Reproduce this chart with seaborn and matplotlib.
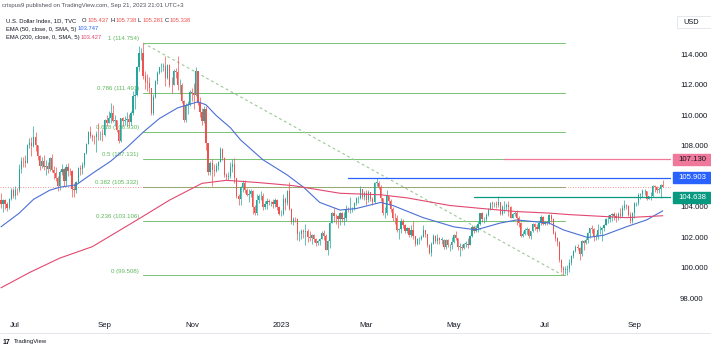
import numpy as np
import pandas as pd
import matplotlib
matplotlib.use("Agg")
import matplotlib.pyplot as plt
import matplotlib.transforms as mtransforms
from matplotlib.patches import Rectangle
import seaborn as sns

# ---------------- data: U.S. Dollar Index (TVC:DXY), daily ----------------
start_date = "2022-06-22"
end_date = "2023-09-21"
first_open = 104.44  # previous session close; every later open = prior close

closes = [
    104.20, 104.43, 104.21,                  # Jun 22-24 2022
    103.95, 104.50, 105.10, 104.69, 105.14,  # Jun 27
    105.11, 106.52, 107.03, 107.01, 106.89,  # Jul 4
    108.07, 108.19, 108.01, 108.62, 108.07,  # Jul 11
    107.35, 106.70, 107.01, 106.59, 106.72,  # Jul 18
    106.46, 107.20, 106.44, 106.25, 105.90,  # Jul 25
    105.40, 106.29, 106.50, 105.72, 106.62,  # Aug 1
    106.38, 106.35, 105.19, 105.09, 105.62,  # Aug 8
    106.55, 106.47, 106.78, 107.51, 108.15,  # Aug 15
    108.95, 108.63, 108.60, 108.56, 108.80,  # Aug 22
    108.78, 108.78, 108.70, 109.68, 109.54,  # Aug 29
    109.82, 110.18, 109.62, 109.71, 109.02,  # Sep 5
    108.32, 109.83, 109.64, 109.72, 109.76,  # Sep 12
    109.59, 110.19, 111.26, 111.36, 113.19,  # Sep 19
    114.10, 114.11, 112.62, 112.19, 112.12,  # Sep 26
    111.79, 110.15, 111.22, 112.25, 112.80,  # Oct 3
    113.16, 113.20, 113.25, 112.44, 113.30,  # Oct 10
    112.03, 112.00, 112.94, 112.86, 111.99,  # Oct 17
    112.00, 110.93, 109.72, 110.60, 110.71,  # Oct 24
    111.53, 111.45, 111.35, 112.90, 110.80,  # Oct 31
    110.20, 109.62, 110.45, 108.18, 106.30,  # Nov 7
    106.88, 106.40, 106.33, 106.68, 106.95,  # Nov 14
    107.80, 107.20, 106.10, 105.95, 106.02,  # Nov 21
    106.65, 106.80, 105.90, 104.72, 104.50,  # Nov 28
    105.30, 105.58, 105.10, 104.79, 104.82,  # Dec 5
    105.05, 104.00, 103.60, 104.45, 104.70,  # Dec 12
    104.70, 104.00, 104.20, 104.42, 104.30,  # Dec 19
    104.30, 104.22, 104.49, 104.00, 103.52,  # Dec 26
    103.55, 104.52, 104.25, 105.05, 103.88,  # Jan 2 2023
    103.00, 103.22, 103.20, 102.20, 102.20,  # Jan 9
    102.40, 102.38, 102.42, 102.05, 101.95,  # Jan 16
    102.15, 101.90, 101.62, 101.80, 101.90,  # Jan 23
    102.30, 102.10, 101.20, 101.75, 102.95,  # Jan 30
    103.62, 103.42, 103.40, 103.20, 103.60,  # Feb 6
    103.20, 103.30, 103.90, 103.85, 103.85,  # Feb 13
    103.90, 104.25, 104.60, 104.60, 105.20,  # Feb 20
    104.65, 104.90, 104.45, 105.00, 104.50,  # Feb 27
    104.30, 105.60, 105.60, 105.30, 104.58,  # Mar 6
    103.60, 103.60, 104.70, 104.40, 103.85,  # Mar 13
    103.30, 103.25, 102.50, 102.55, 103.10,  # Mar 20
    102.85, 102.40, 102.65, 102.15, 102.50,  # Mar 27
    102.10, 101.60, 101.90, 101.90, 102.05,  # Apr 3
    102.50, 102.20, 101.50, 101.00, 101.60,  # Apr 10
    102.10, 101.75, 101.95, 101.85, 101.85,  # Apr 17
    101.35, 101.85, 101.50, 101.50, 101.70,  # Apr 24
    102.15, 101.95, 101.40, 101.40, 101.30,  # May 1
    101.60, 101.60, 101.50, 102.10, 102.70,  # May 8
    102.40, 102.60, 102.90, 103.60, 103.20,  # May 15
    103.20, 103.50, 103.90, 104.25, 104.20,  # May 22
    104.20, 104.10, 104.30, 103.55, 104.00,  # May 29
    104.00, 104.10, 104.00, 103.30, 103.55,  # Jun 5
    103.60, 103.30, 102.95, 102.10, 102.25,  # Jun 12
    102.50, 102.55, 102.10, 102.40, 102.90,  # Jun 19
    102.70, 102.55, 102.95, 103.35, 102.90,  # Jun 26
    103.00, 102.95, 103.45, 103.20, 102.30,  # Jul 3
    101.95, 101.70, 100.55, 100.00, 99.90,   # Jul 10
    99.90, 99.95, 100.30, 100.80, 101.10,    # Jul 17
    101.40, 101.30, 100.90, 101.80, 101.65,  # Jul 24
    101.85, 102.30, 102.60, 102.55, 102.00,  # Jul 31
    102.10, 102.50, 102.50, 102.60, 102.85,  # Aug 7
    103.20, 103.20, 103.45, 103.55, 103.40,  # Aug 14
    103.30, 103.55, 103.40, 103.95, 104.15,  # Aug 21
    104.05, 103.50, 103.10, 103.60, 104.25,  # Aug 28
    104.25, 104.80, 104.85, 105.05, 105.05,  # Sep 4
    104.55, 104.70, 104.72, 105.40, 105.30,  # Sep 11
    105.10, 105.20, 105.437, 105.338,        # Sep 18-21
]

highs = [
    104.95, 104.55, 104.50,
    104.35, 104.60, 105.25, 105.25, 105.40,
    105.25, 106.80, 107.25, 107.25, 107.40,
    108.15, 108.55, 108.60, 109.29, 108.90,
    108.05, 107.40, 107.25, 107.40, 107.05,
    106.95, 107.25, 107.45, 106.70, 106.60,
    106.00, 106.40, 106.80, 106.55, 106.85,
    106.90, 106.55, 106.45, 105.55, 105.70,
    106.60, 106.75, 106.95, 107.55, 108.20,
    109.00, 109.30, 108.80, 108.75, 109.00,
    109.50, 109.00, 109.10, 109.80, 110.00,
    110.27, 110.79, 110.70, 110.00, 109.70,
    109.10, 109.85, 109.90, 109.95, 110.20,
    110.10, 110.30, 111.60, 111.73, 113.25,
    114.58, 114.40, 114.754, 112.90, 112.70,
    112.55, 111.80, 111.40, 112.30, 112.90,
    113.20, 113.45, 113.45, 113.90, 113.35,
    113.35, 112.50, 113.05, 113.10, 113.88,
    112.40, 112.10, 111.00, 110.80, 110.95,
    111.70, 111.80, 112.10, 113.15, 112.95,
    111.20, 110.50, 110.60, 110.65, 108.20,
    107.00, 107.15, 106.85, 106.90, 107.00,
    107.95, 107.90, 107.25, 106.25, 106.30,
    106.95, 107.15, 107.20, 105.90, 104.85,
    105.40, 105.80, 105.80, 105.25, 105.15,
    105.15, 105.10, 104.15, 104.85, 104.85,
    105.05, 104.90, 104.40, 104.60, 104.55,
    104.40, 104.50, 104.60, 104.55, 104.05,
    103.80, 104.85, 104.65, 105.10, 105.63,
    103.95, 103.35, 103.35, 103.25, 102.45,
    102.55, 102.55, 102.90, 102.55, 102.40,
    102.20, 102.20, 101.95, 101.85, 101.95,
    102.40, 102.50, 102.20, 101.85, 103.00,
    103.70, 103.95, 103.55, 103.45, 103.70,
    103.70, 103.65, 104.10, 104.00, 104.65,
    104.00, 104.30, 104.65, 104.75, 105.35,
    105.15, 105.05, 105.10, 105.10, 105.00,
    104.65, 105.65, 105.88, 105.70, 105.45,
    104.50, 104.00, 105.10, 104.75, 104.50,
    104.00, 103.60, 103.45, 102.60, 103.30,
    103.20, 102.90, 102.70, 102.70, 102.80,
    103.05, 102.10, 101.95, 102.05, 102.15,
    102.80, 102.50, 102.25, 101.55, 101.70,
    102.20, 102.15, 102.20, 102.00, 102.00,
    101.90, 101.90, 101.90, 101.60, 102.00,
    102.25, 102.45, 101.95, 101.65, 101.60,
    101.65, 101.75, 101.95, 102.15, 102.80,
    102.70, 102.80, 103.10, 103.60, 103.65,
    103.35, 103.60, 103.95, 104.30, 104.40,
    104.35, 104.40, 104.70, 104.30, 104.10,
    104.40, 104.25, 104.40, 104.05, 103.60,
    103.75, 103.80, 103.40, 103.00, 102.40,
    102.60, 102.70, 102.60, 102.45, 102.95,
    102.95, 102.90, 103.10, 103.50, 103.40,
    103.10, 103.10, 103.55, 103.55, 103.25,
    102.40, 102.00, 101.75, 100.60, 100.10,
    100.15, 100.20, 100.60, 100.85, 101.20,
    101.50, 101.60, 101.40, 101.85, 101.85,
    101.95, 102.35, 102.65, 102.80, 102.60,
    102.20, 102.90, 102.75, 102.70, 102.90,
    103.25, 103.45, 103.50, 103.60, 103.65,
    103.60, 103.70, 103.95, 104.10, 104.45,
    104.20, 104.10, 103.70, 103.70, 104.30,
    104.35, 104.90, 104.90, 105.15, 105.15,
    104.95, 104.75, 105.00, 105.45, 105.45,
    105.40, 105.30, 105.50, 105.738,
]

lows = [
    103.94, 103.70, 103.85,
    103.75, 103.90, 104.45, 104.60, 104.50,
    104.80, 105.00, 106.20, 106.60, 106.60,
    107.00, 107.85, 107.35, 107.95, 107.70,
    107.10, 106.45, 106.55, 106.40, 106.10,
    106.25, 106.35, 106.30, 105.85, 105.70,
    105.05, 105.10, 106.10, 105.40, 105.40,
    106.05, 106.10, 104.65, 104.65, 104.90,
    105.55, 106.10, 106.15, 106.65, 107.45,
    108.10, 108.50, 108.30, 108.10, 107.60,
    108.40, 108.40, 108.30, 108.65, 109.30,
    109.50, 109.50, 109.55, 109.30, 108.95,
    108.20, 108.25, 109.30, 109.40, 109.30,
    109.30, 109.40, 110.00, 110.45, 111.30,
    112.90, 113.65, 112.40, 111.75, 111.60,
    111.50, 110.05, 110.00, 111.15, 112.05,
    112.70, 112.85, 112.90, 111.95, 112.40,
    111.90, 111.45, 112.00, 112.45, 111.70,
    111.40, 110.80, 109.55, 109.55, 110.10,
    110.65, 110.95, 110.40, 111.30, 110.70,
    109.90, 109.40, 109.50, 107.75, 106.10,
    106.10, 105.35, 106.05, 106.30, 106.45,
    106.95, 107.10, 105.95, 105.75, 105.80,
    105.90, 106.30, 105.60, 104.60, 104.10,
    104.12, 105.00, 104.95, 104.75, 104.35,
    104.65, 103.55, 103.45, 103.50, 104.25,
    104.45, 103.80, 103.90, 103.85, 104.10,
    104.05, 103.95, 104.00, 103.80, 103.45,
    103.40, 103.50, 103.80, 104.15, 103.80,
    102.90, 102.80, 103.00, 101.85, 101.80,
    101.90, 101.95, 101.50, 101.70, 101.75,
    101.60, 101.70, 101.45, 101.50, 101.50,
    101.90, 101.85, 101.15, 100.82, 101.30,
    102.95, 103.00, 102.90, 102.60, 102.80,
    103.00, 102.80, 103.10, 103.70, 103.60,
    103.65, 103.80, 104.10, 104.25, 104.55,
    104.50, 104.45, 104.10, 104.35, 104.40,
    104.10, 104.25, 105.40, 105.15, 104.40,
    103.45, 103.30, 103.50, 104.20, 103.70,
    103.05, 102.90, 102.35, 101.90, 102.30,
    102.65, 102.30, 102.30, 102.00, 102.00,
    101.90, 101.45, 101.50, 101.60, 101.85,
    102.05, 102.00, 101.35, 100.90, 100.80,
    101.55, 101.65, 101.60, 101.60, 101.60,
    101.25, 101.25, 101.40, 101.10, 101.25,
    101.65, 101.85, 101.15, 100.80, 101.20,
    101.25, 101.35, 101.30, 101.50, 102.05,
    102.30, 102.35, 102.35, 102.80, 103.00,
    102.95, 103.10, 103.40, 103.80, 103.90,
    104.00, 103.95, 104.00, 103.50, 103.45,
    103.60, 103.80, 103.40, 103.30, 103.25,
    103.40, 102.85, 102.70, 102.00, 102.00,
    102.15, 102.25, 101.95, 101.90, 102.35,
    102.50, 102.35, 102.45, 102.85, 102.80,
    102.80, 102.85, 102.90, 103.00, 102.25,
    101.75, 101.45, 100.40, 99.75, 99.508,
    99.60, 99.55, 99.75, 100.20, 100.65,
    101.05, 101.20, 100.55, 100.80, 101.20,
    101.55, 101.65, 101.95, 102.30, 101.75,
    101.85, 101.90, 102.20, 101.80, 102.40,
    102.80, 102.95, 103.00, 103.10, 103.15,
    103.00, 103.15, 103.25, 103.35, 103.80,
    103.85, 103.40, 102.95, 102.95, 103.30,
    104.05, 104.10, 104.50, 104.65, 104.80,
    104.45, 104.50, 104.45, 104.65, 105.00,
    104.95, 104.95, 104.60, 105.281,
]

# moving averages (bar index, value)
ema50_bar = [0, 9, 16, 24, 29, 37, 45, 54, 62, 70, 78, 87, 97, 101, 106, 113,
             118, 129, 141, 149, 157, 167, 175, 187, 193, 208, 223, 234, 246,
             254, 270, 277, 289, 297, 308, 318, 326]
ema50_val = [102.7, 103.6, 104.5, 105.1, 105.3, 105.45, 106.2, 107.0, 107.9,
             108.9, 109.8, 110.5, 110.9, 110.7, 110.0, 109.2, 108.4, 107.1,
             106.1, 105.3, 104.3, 103.8, 103.9, 104.3, 104.1, 103.3, 102.7,
             102.5, 102.95, 103.15, 102.95, 102.5, 102.0, 102.15, 102.7,
             103.15, 103.747]
ema200_bar = [0, 14, 29, 45, 67, 83, 99, 111, 127, 144, 167, 187, 200, 221,
              237, 254, 270, 280, 308, 326]
ema200_val = [98.7, 99.7, 100.65, 101.4, 103.15, 104.45, 105.55, 105.75, 105.6,
              105.4, 104.9, 104.8, 104.6, 104.1, 103.9, 103.7, 103.6, 103.5,
              103.3, 103.427]

# Fibonacci retracement, Sep 28 2022 high -> Jul 14 2023 low
fib_ratios = ["0", "0.236", "0.382", "0.5", "0.618", "0.786", "1"]
fib_prices = [99.508, 103.106, 105.332, 107.131, 108.930, 111.491, 114.754]
fib_from_bar = 70
fib_to_bar = 278

# horizontal levels drawn to the price scale
level_prices = [107.130, 105.903, 104.638]
level_from_bar = [248, 171, 233]
level_colors = ["#f0789a", "#2962ff", "#089981"]
level_text_colors = ["#131722", "#ffffff", "#ffffff"]

last_price = 105.338

month_starts = ["2022-07-01", "2022-09-01", "2022-11-01", "2023-01-01",
                "2023-03-01", "2023-05-01", "2023-07-01", "2023-09-01"]
month_labels = ["Jul", "Sep", "Nov", "2023", "Mar", "May", "Jul", "Sep"]
price_ticks = [98, 100, 102, 104, 108, 110, 112, 114]

# ---------------- frame ----------------
dates = pd.bdate_range(start_date, end_date)
n = len(closes)
assert n == len(dates) == len(highs) == len(lows)

c = np.array(closes)
o = np.concatenate([[first_open], c[:-1]])
h = np.maximum(np.array(highs), np.maximum(o, c))
l = np.minimum(np.array(lows), np.minimum(o, c))
bars = pd.DataFrame({"bar": np.arange(n), "date": dates, "open": o,
                     "high": h, "low": l, "close": c})
bars["up"] = bars["close"] >= bars["open"]

sns.set_theme(style="white")
plt.rcParams["font.family"] = ["Liberation Sans", "DejaVu Sans"]

W, H = 711, 350
fig = plt.figure(figsize=(W / 100, H / 100), dpi=100)
fig.patch.set_facecolor("white")

top_px, bottom_px, right_px = 12, 316, 671
ax = fig.add_axes([0, 1 - bottom_px / H, right_px / W, (bottom_px - top_px) / H])
ax.set_xlim(-0.49, 330.05)
ax.set_ylim(96.852, 116.787)
for s in ax.spines.values():
    s.set_visible(False)
ax.grid(False)

UP, DOWN = "#26a69a", "#ef5350"
GREEN_LINE, GREEN_TEXT = "#7cc479", "#5cb85c"

# Fibonacci levels and labels
for r, p in zip(fib_ratios, fib_prices):
    ax.plot([fib_from_bar, fib_to_bar], [p, p], color=GREEN_LINE, lw=0.75, zorder=1)
    ax.annotate(f"{r} ({p:.3f})", xy=(fib_from_bar, p), xytext=(-3, 3.1),
                textcoords="offset points", ha="right", va="center",
                fontsize=4.4, color=GREEN_TEXT, zorder=1)
ax.plot([fib_from_bar, 277], [fib_prices[-1], fib_prices[0]], color="#9cc796",
        lw=0.8, dashes=(2.5, 2.5), zorder=1)

# last price line
ax.axhline(last_price, color=DOWN, lw=0.6, ls=(0, (1, 2)), alpha=0.8, zorder=1.5)

# candles
colors = np.where(bars["up"], UP, DOWN)
ax.vlines(bars["bar"], bars["low"], bars["high"], colors=colors, lw=0.5, zorder=2)
body_lo = np.minimum(bars["open"], bars["close"])
body_h = np.maximum(np.abs(bars["close"] - bars["open"]), 0.02)
ax.bar(bars["bar"], body_h, bottom=body_lo, width=0.6, color=colors,
       linewidth=0, zorder=2.5)

# moving averages
sns.lineplot(x=ema50_bar, y=ema50_val, ax=ax, color="#4b6fd6", lw=0.8, zorder=3)
sns.lineplot(x=ema200_bar, y=ema200_val, ax=ax, color="#e2486f", lw=0.8, zorder=3)

# horizontal levels
for p, b, col in zip(level_prices, level_from_bar, level_colors):
    ax.plot([b, 330.05], [p, p], color=col, lw=0.9, zorder=3.5)

# axes ticks
ax.yaxis.tick_right()
ax.set_yticks(price_ticks)
ax.set_yticklabels([f"{v:.3f}" for v in price_ticks])
ax.tick_params(axis="y", length=0, pad=6.5, labelsize=5.6, labelcolor="#131722")
tick_bars = [int(np.searchsorted(dates, pd.Timestamp(d))) for d in month_starts]
ax.set_xticks(tick_bars)
ax.set_xticklabels(month_labels)
ax.tick_params(axis="x", length=0, pad=4.5, labelsize=5.6, labelcolor="#131722")
ax.set_xlabel("")
ax.set_ylabel("")

# price-scale tags
blend = mtransforms.blended_transform_factory(fig.transFigure, ax.transData)
tag_h = 11 / 15.25
for p, col, tcol in zip(level_prices, level_colors, level_text_colors):
    fig.patches.append(Rectangle((673 / W, p - tag_h / 2), 38 / W, tag_h,
                                 transform=blend, color=col, zorder=5))
    fig.text(692 / W, p, f"{p:.3f}", transform=blend, ha="center", va="center",
             fontsize=5.6, color=tcol, zorder=6)


def fx(x):
    return x / W


def fy(y):
    return 1 - y / H


renderer = fig.canvas.get_renderer()


def text_row(y, parts, size):
    """Place coloured pieces of one header line left to right without overlap."""
    end = 0
    for x, s, col in parts:
        x = max(x, end + 1)
        t = fig.text(fx(x), fy(y), s, fontsize=size, color=col, va="center")
        end = t.get_window_extent(renderer).x1


# USD label box
fig.patches.append(Rectangle((fx(677), fy(28)), 34 / W, 12 / H, transform=fig.transFigure,
                             facecolor="white", edgecolor="#e0e3eb", lw=0.6))
fig.text(fx(683), fy(22), "USD", fontsize=5.3, color="#131722", va="center")

# header
DARK = "#131722"
fig.text(fx(2), fy(6), "crispus9 published on TradingView.com, Sep 21, 2023 21:01 UTC+3",
         fontsize=4.3, color="#50535e", va="center")
text_row(20.5, [(6, "U.S. Dollar Index, 1D, TVC", DARK), (82, "O", DARK),
                (85.5, "105.437", DOWN), (110.5, "H", DARK), (114, "105.738", DOWN),
                (138, "L", DARK), (141, "105.281", DOWN), (164, "C", DARK),
                (167.5, "105.338", DOWN)], 4.2)
text_row(29, [(6, "EMA (50, close, 0, SMA, 5)", DARK), (77, "103.747", "#2962ff")], 4.2)
text_row(37.5, [(6, "EMA (200, close, 0, SMA, 5)", DARK), (77, "103.427", "#e2486f")], 4.2)

# footer
fig.add_artist(plt.Line2D([0, 1], [fy(333), fy(333)], transform=fig.transFigure,
                          color="#e0e3eb", lw=0.6))
fig.text(fx(3), fy(342), "17", fontsize=5, fontweight="bold", color=DARK, va="center")
fig.text(fx(14), fy(342), "TradingView", fontsize=4.3, color=DARK, va="center")

fig.savefig("out.png", dpi=100, facecolor="white")
